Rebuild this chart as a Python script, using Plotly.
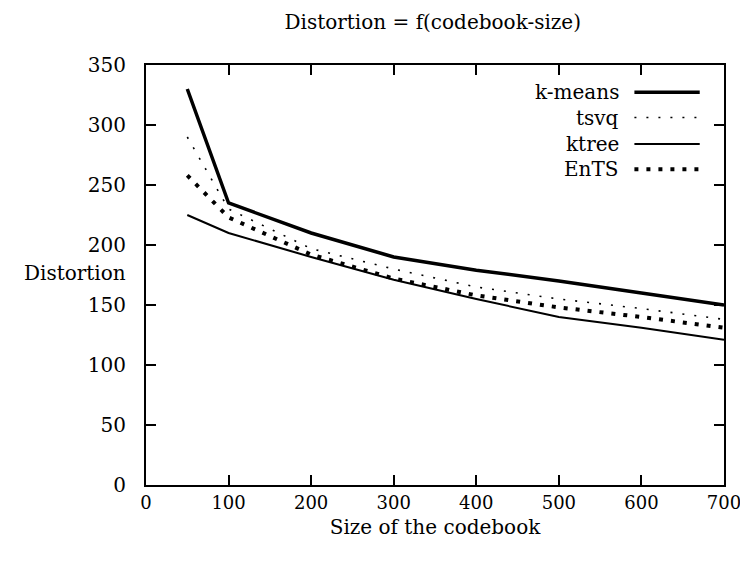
import plotly.graph_objects as go

codebook_size = [50, 100, 200, 300, 400, 500, 600, 700]
kmeans = [330, 235, 210, 190, 179, 170, 160, 150]
tsvq = [290, 230, 197, 180, 165, 155, 147, 138]
ktree = [225, 210, 190, 171, 155, 140, 131, 121]
ents = [258, 223, 192, 172, 158, 148, 140, 131]

x_tick_labels = ["0", "100", "200", "300", "400", "500", "600", "700"]
y_tick_labels = ["0", "50", "100", "150", "200", "250", "300", "350"]

series_names = ["k-means", "tsvq", "ktree", "EnTS"]
series_values = [kmeans, tsvq, ktree, ents]
styles = [
    dict(width=3.5, dash="solid"),
    dict(width=1.6, dash="2px,10px"),
    dict(width=2, dash="solid"),
    dict(width=4, dash="4px,8px"),
]

FONT = "DejaVu Serif"
FS = 20

fig = go.Figure()
for name, vals, st in zip(series_names, series_values, styles):
    fig.add_trace(go.Scatter(x=codebook_size, y=vals, mode="lines", name=name,
                             line=dict(color="black", width=st["width"], dash=st["dash"]),
                             showlegend=False))

# manual gnuplot-style legend (text right, sample to the right)
leg_y = [0.935, 0.875, 0.812, 0.752]
for name, st, yy in zip(series_names, styles, leg_y):
    fig.add_annotation(x=0.822, y=yy, xref="paper", yref="paper", text=name,
                       showarrow=False, xanchor="right", yanchor="middle",
                       font=dict(family=FONT, size=FS, color="black"))
    fig.add_shape(type="line", xref="paper", yref="paper", x0=0.845, x1=0.958, y0=yy, y1=yy,
                  line=dict(color="black", width=st["width"], dash=st["dash"]))

fig.add_annotation(x=-0.031, y=0.505, xref="paper", yref="paper", text="Distortion",
                   showarrow=False, xanchor="right", yanchor="middle",
                   font=dict(family=FONT, size=FS, color="black"))

fig.update_layout(
    width=740, height=554,
    margin=dict(l=138, r=24, t=57, b=77, autoexpand=False),
    paper_bgcolor="white", plot_bgcolor="white",
    font=dict(family=FONT, size=FS, color="black"),
    title=dict(text="Distortion = f(codebook-size)", x=0.574, xanchor="center",
               y=0.974, yanchor="middle", font=dict(family=FONT, size=FS)),
)
fig.update_xaxes(range=[0, 700], tickvals=[int(v) for v in x_tick_labels], ticktext=x_tick_labels,
                 ticks="inside", ticklen=10, tickwidth=2, tickcolor="black",
                 tickfont=dict(family=FONT, size=18),
                 showline=True, linewidth=2, linecolor="black", mirror="allticks",
                 showgrid=False, zeroline=False, ticklabeloverflow="allow", automargin=False,
                 title=dict(text="Size of the codebook", standoff=8,
                            font=dict(family=FONT, size=FS)))
fig.update_yaxes(range=[0, 350], tickvals=[int(v) for v in y_tick_labels], ticktext=y_tick_labels,
                 ticks="inside", ticklen=10, tickwidth=2, tickcolor="black",
                 showline=True, linewidth=2, linecolor="black", mirror="allticks",
                 showgrid=False, zeroline=False, ticklabelstandoff=14, automargin=False)

fig.write_html("out.html")
